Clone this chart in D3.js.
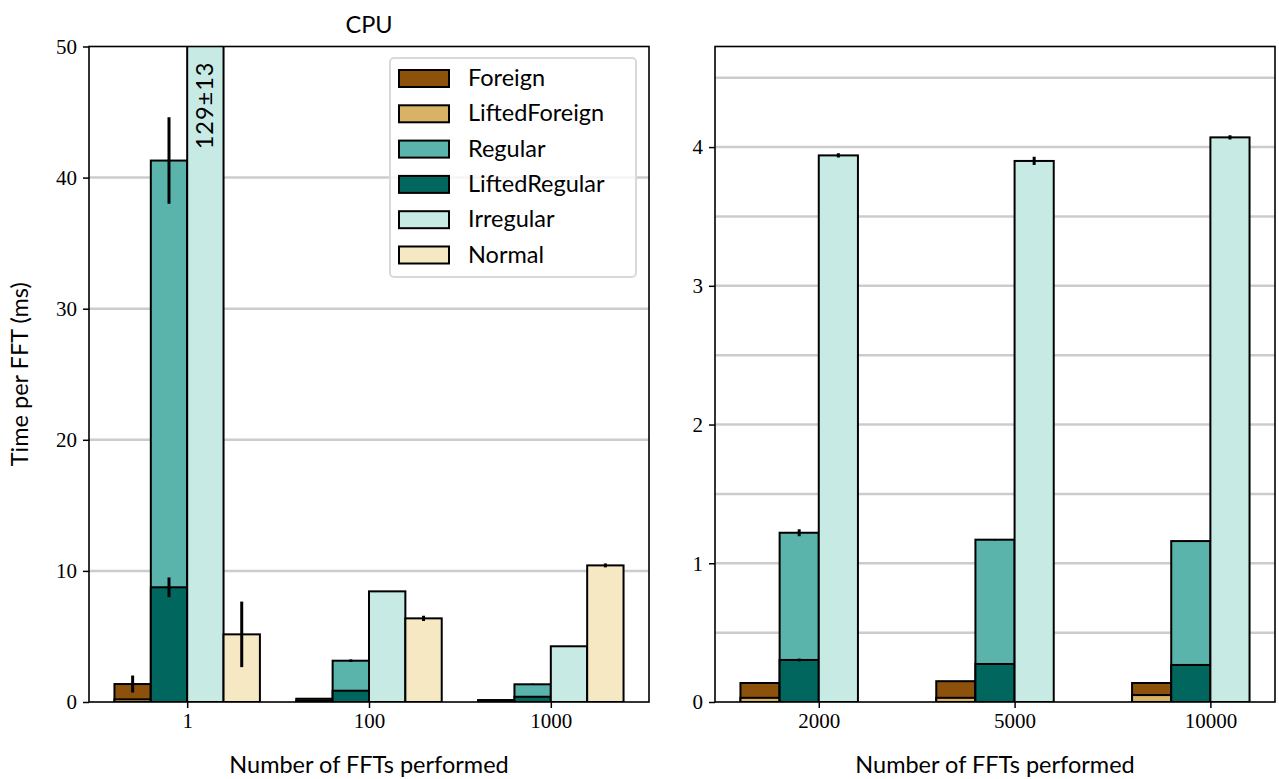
<!DOCTYPE html>
<html>
<head>
<meta charset="utf-8">
<script src="https://d3js.org/d3.v7.min.js"></script>
<style>
  body { margin: 0; background: #fff; }
  .tick text { font-family: "Liberation Serif", serif; }
  .lbl { font-family: Lato, "Noto Sans", sans-serif; }
</style>
</head>
<body>
<div id="chart"></div>
<script>
// ---------------- data ----------------
const seriesNames = ['Foreign', 'LiftedForeign', 'Regular', 'LiftedRegular', 'Irregular', 'Normal'];
const seriesColors = ['#8c510a', '#d8b365', '#5ab4ac', '#01665e', '#c7eae5', '#f6e8c3'];
// slot of each series inside a group (lifted variants drawn over their base)
const seriesSlot = [0, 0, 1, 1, 2, 3];

// left panel (CPU)
const cpuGroups = ['1', '100', '1000'];
const cpuForeign = [1.37, 0.25, 0.15];
const cpuForeignErr = [0.65, 0, 0];
const cpuLiftedForeign = [0.2, 0.1, 0.07];
const cpuRegular = [41.3, 3.15, 1.35];
const cpuRegularErr = [3.3, 0.1, 0.05];
const cpuLiftedRegular = [8.75, 0.86, 0.4];
const cpuLiftedRegularErr = [0.75, 0, 0];
const cpuIrregular = [129, 8.44, 4.25];
const cpuIrregularErr = [13, 0.03, 0.03];
const cpuNormal = [5.16, 6.38, 10.42];
const cpuNormalErr = [2.5, 0.2, 0.15];
const cpuYTicks = [0, 10, 20, 30, 40, 50];
const cpuGrid = [10, 20, 30, 40];

// right panel
const bigGroups = ['2000', '5000', '10000'];
const bigForeign = [0.137, 0.15, 0.137];
const bigLiftedForeign = [0.03, 0.03, 0.05];
const bigRegular = [1.22, 1.17, 1.16];
const bigRegularErr = [0.025, 0.005, 0.005];
const bigLiftedRegular = [0.303, 0.274, 0.267];
const bigLiftedRegularErr = [0.01, 0, 0];
const bigIrregular = [3.94, 3.90, 4.07];
const bigIrregularErr = [0.015, 0.03, 0.015];
const bigYTicks = [0, 1, 2, 3, 4];
const bigGrid = [0.5, 1, 1.5, 2, 2.5, 3, 3.5, 4, 4.5];

const W = 1279, H = 779;
const svg = d3.select('#chart').append('svg')
  .attr('width', W).attr('height', H)
  .style('background', '#fff');

const barW = 0.2;
const labelSize = '23.5px';

function drawPanel(opts) {
  const { left, right, top, bottom, xDomain, yMax, groups, series, yTicks, grid, clipId } = opts;

  const x = d3.scaleLinear().domain(xDomain).range([left, right]);
  const y = d3.scaleLinear().domain([0, yMax]).range([bottom, top]);

  const g = svg.append('g');

  g.append('clipPath').attr('id', clipId)
    .append('rect')
    .attr('x', left).attr('y', top)
    .attr('width', right - left).attr('height', bottom - top);

  // gridlines
  g.selectAll('.grid')
    .data(grid)
    .enter()
    .append('line')
    .attr('x1', left).attr('x2', right)
    .attr('y1', d => y(d)).attr('y2', d => y(d))
    .style('stroke', '#cccccc')
    .style('stroke-width', 2.5);

  const plot = g.append('g').attr('clip-path', `url(#${clipId})`);

  // bars
  series.forEach(s => {
    if (!s.values) return;
    const slot = seriesSlot[s.idx];
    plot.selectAll(null)
      .data(s.values)
      .enter()
      .append('rect')
      .attr('x', (d, i) => x(i + (slot - 2) * barW))
      .attr('width', x(barW) - x(0))
      .attr('y', d => y(d))
      .attr('height', d => y(0) - y(d))
      .style('fill', seriesColors[s.idx])
      .style('stroke', '#000')
      .style('stroke-width', 2);
  });

  // error bars
  series.forEach(s => {
    if (!s.values || !s.err) return;
    const slot = seriesSlot[s.idx];
    plot.selectAll(null)
      .data(s.values)
      .enter()
      .append('line')
      .attr('x1', (d, i) => x(i + (slot - 2) * barW + barW / 2))
      .attr('x2', (d, i) => x(i + (slot - 2) * barW + barW / 2))
      .attr('y1', (d, i) => y(d - s.err[i]))
      .attr('y2', (d, i) => y(d + s.err[i]))
      .style('stroke', '#000')
      .style('stroke-width', 3);
  });

  // axes
  const xAxis = d3.axisBottom(x)
    .tickValues(groups.map((d, i) => i))
    .tickFormat(i => groups[i])
    .tickSizeOuter(0)
    .tickSize(6)
    .tickPadding(5);
  const gx = g.append('g')
    .attr('transform', `translate(0,${bottom})`)
    .call(xAxis);
  gx.select('.domain').remove();

  const yAxis = d3.axisLeft(y)
    .tickValues(yTicks)
    .tickFormat(d3.format('d'))
    .tickSizeOuter(0)
    .tickSize(6)
    .tickPadding(6);
  const gy = g.append('g')
    .attr('transform', `translate(${left},0)`)
    .call(yAxis);
  gy.select('.domain').remove();

  [gx, gy].forEach(a => {
    a.selectAll('.tick line').style('stroke', '#000').style('stroke-width', 1.5);
    a.selectAll('.tick text')
      .style('font-family', '"Liberation Serif", serif')
      .style('font-size', '21px')
      .style('fill', '#000');
  });

  // frame
  g.append('rect')
    .attr('x', left).attr('y', top)
    .attr('width', right - left).attr('height', bottom - top)
    .style('fill', 'none')
    .style('stroke', '#000')
    .style('stroke-width', 1.6);

  // x label
  g.append('text')
    .attr('class', 'lbl')
    .attr('x', (left + right) / 2)
    .attr('y', bottom + 71)
    .attr('text-anchor', 'middle')
    .style('font-size', labelSize)
    .text('Number of FFTs performed');

  return { x, y, g };
}

const cpu = drawPanel({
  left: 89, right: 649, top: 46.5, bottom: 702,
  xDomain: [-0.54, 2.54], yMax: 50,
  groups: cpuGroups,
  series: [
    { idx: 0, values: cpuForeign, err: cpuForeignErr },
    { idx: 1, values: cpuLiftedForeign },
    { idx: 2, values: cpuRegular, err: cpuRegularErr },
    { idx: 3, values: cpuLiftedRegular, err: cpuLiftedRegularErr },
    { idx: 4, values: cpuIrregular, err: cpuIrregularErr },
    { idx: 5, values: cpuNormal, err: cpuNormalErr }
  ],
  yTicks: cpuYTicks, grid: cpuGrid, clipId: 'clipCpu'
});

const big = drawPanel({
  left: 715, right: 1275, top: 46.5, bottom: 702,
  xDomain: [-0.53, 2.33], yMax: 4.725,
  groups: bigGroups,
  series: [
    { idx: 0, values: bigForeign },
    { idx: 1, values: bigLiftedForeign },
    { idx: 2, values: bigRegular, err: bigRegularErr },
    { idx: 3, values: bigLiftedRegular, err: bigLiftedRegularErr },
    { idx: 4, values: bigIrregular, err: bigIrregularErr }
  ],
  yTicks: bigYTicks, grid: bigGrid, clipId: 'clipBig'
});

// label on the clipped Irregular bar
const irrX = cpu.x(0 + barW / 2);
cpu.g.append('text')
  .attr('class', 'lbl')
  .attr('transform', `translate(${irrX + 8},${cpu.y(50) + 15}) rotate(-90)`)
  .attr('text-anchor', 'end')
  .style('font-size', labelSize)
  .style('letter-spacing', '1px')
  .text(`${cpuIrregular[0]}±${cpuIrregularErr[0]}`);

// title and y label
svg.append('text')
  .attr('class', 'lbl')
  .attr('x', (89 + 649) / 2)
  .attr('y', 33)
  .attr('text-anchor', 'middle')
  .style('font-size', labelSize)
  .text('CPU');

svg.append('text')
  .attr('class', 'lbl')
  .attr('transform', `translate(28,${(46.5 + 702) / 2}) rotate(-90)`)
  .attr('text-anchor', 'middle')
  .style('font-size', labelSize)
  .text('Time per FFT (ms)');

// legend
const legend = svg.append('g').attr('transform', 'translate(390,58)');
legend.append('rect')
  .attr('width', 246).attr('height', 219)
  .attr('rx', 4)
  .style('fill', 'rgba(255,255,255,0.8)')
  .style('stroke', '#d9d9d9')
  .style('stroke-width', 2);

const items = legend.selectAll('.item')
  .data(seriesNames)
  .enter()
  .append('g')
  .attr('transform', (d, i) => `translate(0,${20 + i * 35.3})`);

items.append('rect')
  .attr('x', 9).attr('y', -8)
  .attr('width', 50).attr('height', 17)
  .style('fill', (d, i) => seriesColors[i])
  .style('stroke', '#000')
  .style('stroke-width', 2);

items.append('text')
  .attr('class', 'lbl')
  .attr('x', 78)
  .attr('y', 8)
  .style('font-size', labelSize)
  .text(d => d);
</script>
</body>
</html>
